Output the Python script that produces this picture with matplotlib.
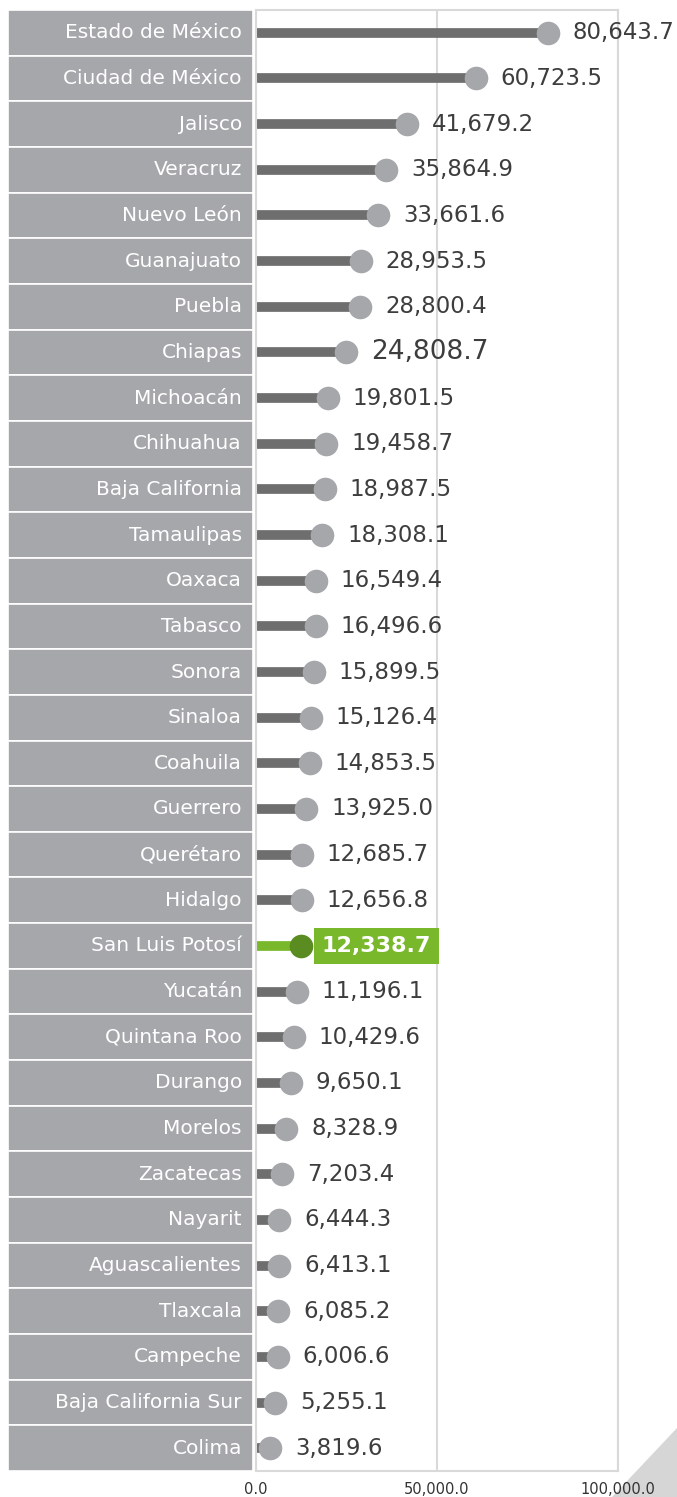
import matplotlib.pyplot as plt
from matplotlib.patches import Polygon

# ---- data
states = ["Estado de México", "Ciudad de México", "Jalisco", "Veracruz", "Nuevo León",
          "Guanajuato", "Puebla", "Chiapas", "Michoacán", "Chihuahua", "Baja California",
          "Tamaulipas", "Oaxaca", "Tabasco", "Sonora", "Sinaloa", "Coahuila", "Guerrero",
          "Querétaro", "Hidalgo", "San Luis Potosí", "Yucatán", "Quintana Roo", "Durango",
          "Morelos", "Zacatecas", "Nayarit", "Aguascalientes", "Tlaxcala", "Campeche",
          "Baja California Sur", "Colima"]
values = [80643.7, 60723.5, 41679.2, 35864.9, 33661.6, 28953.5, 28800.4, 24808.7,
          19801.5, 19458.7, 18987.5, 18308.1, 16549.4, 16496.6, 15899.5, 15126.4,
          14853.5, 13925.0, 12685.7, 12656.8, 12338.7, 11196.1, 10429.6, 9650.1,
          8328.9, 7203.4, 6444.3, 6413.1, 6085.2, 6006.6, 5255.1, 3819.6]
highlight = "San Luis Potosí"
xticks = [0, 50000, 100000]

W, H = 677, 1497
fig = plt.figure(figsize=(W / 100, H / 100), dpi=100)
plt.rcParams['font.family'] = ['DejaVu Sans']

def fx(px):
    return px / W

def fy(py):
    return 1 - py / H

top, bottom = 10, 1471
n = len(states)
ypos = list(range(n))

# corner triangle (behind everything)
fig.patches.append(Polygon([[fx(677), fy(1428)], [fx(677), 0], [fx(612), 0]],
                           closed=True, transform=fig.transFigure, zorder=-5,
                           facecolor="#d6d6d6", edgecolor="none"))

# label column
axl = fig.add_axes([fx(8), fy(bottom), fx(253 - 8), (bottom - top) / H])
axl.barh(ypos, [1] * n, height=1, left=0, color="#a6a7ab", edgecolor="white", linewidth=1.2)
for y, s in zip(ypos, states):
    axl.text(0.955, y, s, ha="right", va="center", color="white", fontsize=14.5)
axl.set_xlim(0, 1)
axl.set_ylim(n - 0.5, -0.5)
axl.axis("off")

# lollipop area
ax = fig.add_axes([fx(256), fy(bottom), fx(618 - 256), (bottom - top) / H])
ax.patch.set_alpha(0)
for y, s, v in zip(ypos, states, values):
    hl = s == highlight
    ax.hlines(y, 0, v, color="#78b82a" if hl else "#6e6e6e", linewidth=7, capstyle="butt", zorder=2)
    ax.plot(v, y, "o", markersize=17, color="#5b8c22" if hl else "#a6a7ab",
            markeredgewidth=0, zorder=3)
    label = f"{v:,.1f}"
    if hl:
        ax.annotate(label, (v, y), xytext=(15, 0), textcoords="offset points",
                    ha="left", va="center", fontsize=16, fontweight="bold", color="white",
                    bbox=dict(boxstyle="square,pad=0.35", fc="#78b82a", ec="none"))
    else:
        ax.annotate(label, (v, y), xytext=(18, 0), textcoords="offset points",
                    ha="left", va="center", fontsize=19 if s == "Chiapas" else 16.5,
                    color="#3d3d3d")

ax.set_xlim(0, 100000)
ax.set_ylim(n - 0.5, -0.5)
ax.set_xticks(xticks)
ax.set_xticklabels([f"{t:,.1f}" for t in xticks], fontsize=10.5, color="#333333")
ax.tick_params(axis="x", length=0, pad=8)
ax.set_yticks([])
ax.grid(axis="x", color="#d9d9d9", linewidth=1.5, zorder=0)
for sp in ax.spines.values():
    sp.set_color("#d9d9d9")
    sp.set_linewidth(1.5)

fig.savefig("out.png", dpi=100)
